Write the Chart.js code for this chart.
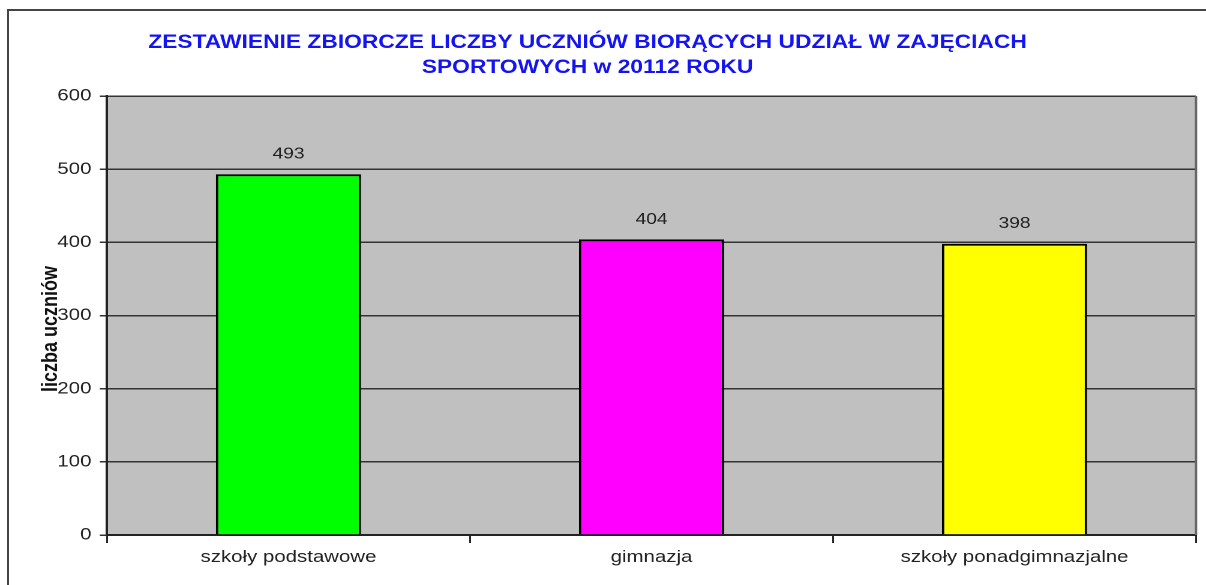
<!DOCTYPE html>
<html>
<head>
<meta charset="utf-8">
<script src="https://cdn.jsdelivr.net/npm/chart.js@4"></script>
<style>
  html, body { margin: 0; padding: 0; background: #fff; overflow: hidden; width: 1206px; height: 585px; }
  #frame { position: absolute; left: 7px; top: 9px; width: 1400px; height: 800px; border: 2px solid #444; box-sizing: border-box; }
  #wrap { position: absolute; left: 0; top: 0; width: 1005px; height: 585px; transform: scaleX(1.2); transform-origin: 0 0; }
</style>
</head>
<body>
<div id="frame"></div>
<div id="wrap"><canvas id="c" width="1005" height="585"></canvas></div>
<script>
const SX = 1.2;
const titleLines = ['ZESTAWIENIE ZBIORCZE LICZBY UCZNIÓW BIORĄCYCH UDZIAŁ W ZAJĘCIACH', 'SPORTOWYCH w 20112 ROKU'];
const yAxisTitle = 'liczba uczniów';
const categories = ['szkoły podstawowe', 'gimnazja', 'szkoły ponadgimnazjalne'];
const values = [493, 404, 398];
const barColors = ['#00FF00', '#FF00FF', '#FFFF00'];
const yTicks = [0, 100, 200, 300, 400, 500, 600];

const FONT = '"Liberation Sans", Arial, sans-serif';

const decor = {
  id: 'decor',
  beforeDraw(chart) {
    const { ctx, chartArea: a } = chart;
    ctx.save();
    ctx.fillStyle = '#C0C0C0';
    ctx.fillRect(a.left, a.top, a.right - a.left, a.bottom - a.top);
    ctx.restore();
  },
  beforeDatasetsDraw(chart) {
    const { ctx, chartArea: a } = chart;
    ctx.save();
    ctx.strokeStyle = '#666';
    ctx.lineWidth = 2;
    ctx.beginPath();
    ctx.moveTo(a.right, a.top);
    ctx.lineTo(a.right, a.bottom);
    ctx.stroke();
    ctx.restore();
  },
  afterDatasetsDraw(chart) {
    const { ctx } = chart;
    const meta = chart.getDatasetMeta(0);
    ctx.save();
    ctx.fillStyle = '#222';
    ctx.font = '16px ' + FONT;
    ctx.textAlign = 'center';
    ctx.textBaseline = 'middle';
    meta.data.forEach((bar, i) => {
      ctx.fillText(String(values[i]), bar.x, bar.y - 20);
    });
    ctx.restore();
  },
  afterDraw(chart) {
    const { ctx } = chart;
    ctx.save();
    ctx.fillStyle = '#1414F0';
    ctx.font = 'bold 19px ' + FONT;
    ctx.textAlign = 'center';
    ctx.textBaseline = 'middle';
    const cx = 587.5 / SX;
    ctx.fillText(titleLines[0], cx, 43);
    ctx.fillText(titleLines[1], cx, 68);
    ctx.fillStyle = '#111';
    ctx.font = 'bold 18px ' + FONT;
    ctx.translate(51 / SX, 329);
    ctx.rotate(-Math.PI / 2);
    ctx.fillText(yAxisTitle, 0, 0);
    ctx.restore();
  }
};

new Chart(document.getElementById('c'), {
  type: 'bar',
  data: {
    labels: categories,
    datasets: [{
      data: values,
      backgroundColor: barColors,
      borderColor: '#000',
      borderWidth: 2,
      barPercentage: 0.4,
      categoryPercentage: 1.0
    }]
  },
  options: {
    responsive: false,
    animation: false,
    devicePixelRatio: 2,
    layout: { padding: { top: 96, right: 1005 - 1196 / SX, bottom: 0, left: 0 } },
    plugins: { legend: { display: false }, title: { display: false }, tooltip: { enabled: false } },
    scales: {
      x: {
        offset: true,
        afterFit(s) { s.height = 50; },
        grid: { display: true, drawOnChartArea: false, drawTicks: true, tickLength: 8, color: '#222', lineWidth: 1.5, offset: true },
        border: { display: true, color: '#222', width: 2 },
        ticks: { color: '#222', font: { size: 17, family: FONT }, padding: 4 }
      },
      y: {
        min: 0, max: 600,
        afterFit(s) { s.width = 107 / SX; },
        afterBuildTicks(s) { s.ticks = yTicks.map(v => ({ value: v })); },
        grid: { color: '#333', lineWidth: 1.5, drawTicks: true, tickLength: 6 },
        border: { display: true, color: '#222', width: 2 },
        ticks: { color: '#222', font: { size: 17, family: FONT }, padding: 7 }
      }
    }
  },
  plugins: [decor]
});
</script>
</body>
</html>
